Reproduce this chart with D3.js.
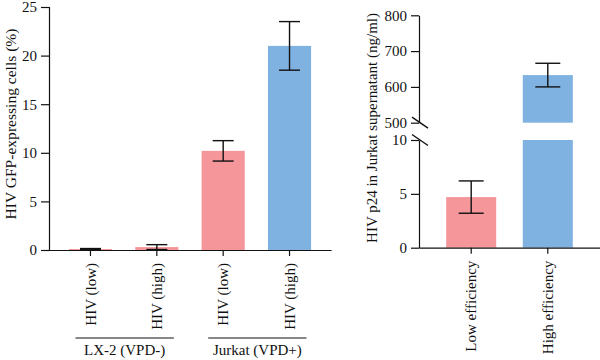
<!DOCTYPE html>
<html><head><meta charset="utf-8">
<script src="https://cdn.jsdelivr.net/npm/d3@7"></script>
<style>
body{margin:0;background:#fff;}
svg{font-family:"Liberation Serif","Times New Roman",serif;}
</style></head>
<body><svg id="c" width="600" height="360"></svg>
<script>
// Left panel data
const leftIds = ["lx_low","lx_high","jk_low","jk_high"];
const leftLabels = ["HIV (low)","HIV (high)","HIV (low)","HIV (high)"];
const leftGroups = ["LX-2 (VPD-)","Jurkat (VPD+)"];
const leftGroupMembers = [["lx_low","lx_high"],["jk_low","jk_high"]];
const leftValues = [0.1, 0.3, 10.2, 21.0];
const leftErrors = [0.05, 0.25, 1.05, 2.5];
const leftColors = ["pink","pink","pink","blue"];
const leftTicks = [0,5,10,15,20,25];

// Right panel data
const rightCats = ["Low efficiency","High efficiency"];
const rightValues = [4.7, 633];
const rightErrors = [1.5, 33];
const rightColors = ["pink","blue"];
const rightLowTicks = [0,5,10];
const rightHighTicks = [500,600,700,800];

const palette = {pink:"#F4969A", blue:"#80B2E1"};
const svg = d3.select("#c");
const fs = 15;

function fitText(sel, target){
  const len = sel.node().getComputedTextLength();
  const cur = parseFloat(sel.attr("font-size"));
  sel.attr("font-size", (cur*target/len).toFixed(2));
}

// ---------- Left panel ----------
const x1 = d3.scaleBand().domain(leftIds).range([49,331]).paddingInner(0.35).paddingOuter(0.3);
const y1 = d3.scaleLinear().domain([0,25]).range([250,7]);
const g1 = svg.append("g");

g1.selectAll("rect.bar").data(leftIds).join("rect")
  .attr("x", d=>x1(d)).attr("width", x1.bandwidth())
  .attr("y", (d,i)=>y1(leftValues[i])).attr("height",(d,i)=>y1(0)-y1(leftValues[i]))
  .attr("fill",(d,i)=>palette[leftColors[i]]);

function errBar(g, cx, yTop, yBot, cap){
  g.append("line").attr("x1",cx).attr("x2",cx).attr("y1",yTop).attr("y2",yBot).attr("stroke","#111").attr("stroke-width",1.4);
  g.append("line").attr("x1",cx-cap/2).attr("x2",cx+cap/2).attr("y1",yTop).attr("y2",yTop).attr("stroke","#111").attr("stroke-width",1.4);
  g.append("line").attr("x1",cx-cap/2).attr("x2",cx+cap/2).attr("y1",yBot).attr("y2",yBot).attr("stroke","#111").attr("stroke-width",1.4);
}
leftIds.forEach((d,i)=>{
  const cx = x1(d)+x1.bandwidth()/2;
  errBar(g1, cx, y1(leftValues[i]+leftErrors[i]), y1(Math.max(0,leftValues[i]-leftErrors[i])), 21);
});

const ya1 = g1.append("g").attr("transform","translate(49,0)")
  .call(d3.axisLeft(y1).tickValues(leftTicks).tickSize(8).tickPadding(4));
const xa1 = g1.append("g").attr("transform","translate(0,250)")
  .call(d3.axisBottom(x1).tickSize(6).tickSizeOuter(0).tickFormat((d,i)=>leftLabels[i]));
xa1.selectAll(".tick text")
  .attr("transform","rotate(-90)").attr("text-anchor","end")
  .attr("x",-13).attr("y",0).attr("dy","0.35em");

// group labels
leftGroupMembers.forEach((m,gi)=>{
  const xa = x1(m[0])+x1.bandwidth()/2 - 15;
  const xb = x1(m[1])+x1.bandwidth()/2 + 17;
  g1.append("line").attr("x1",xa).attr("x2",xb).attr("y1",338).attr("y2",338).attr("stroke","#111").attr("stroke-width",1.2);
  g1.append("text").attr("x",(xa+xb)/2).attr("y",355).attr("text-anchor","middle").attr("font-size",fs).attr("fill","#111").text(leftGroups[gi]);
});

const t1 = g1.append("text").attr("transform","translate(16,124) rotate(-90)").attr("text-anchor","middle")
  .attr("font-size",fs).attr("fill","#111").text("HIV GFP-expressing cells (%)");
fitText(t1, 191);

// ---------- Right panel ----------
const x2 = d3.scaleBand().domain(rightCats).range([419,600]).paddingInner(0.347).paddingOuter(0.355);
const yLow = d3.scaleLinear().domain([0,10]).range([247.7,140]);
const yHigh = d3.scaleLinear().domain([500,800]).range([122.7,15.3]);
const g2 = svg.append("g");

rightCats.forEach((c,i)=>{
  const v = rightValues[i];
  const col = palette[rightColors[i]];
  const top = Math.min(v,10);
  g2.append("rect").attr("x",x2(c)).attr("width",x2.bandwidth())
    .attr("y",yLow(top)).attr("height",yLow(0)-yLow(top)).attr("fill",col);
  if (v > 500){
    g2.append("rect").attr("x",x2(c)).attr("width",x2.bandwidth())
      .attr("y",yHigh(v)).attr("height",yHigh(500)-yHigh(v)).attr("fill",col);
  }
  const cx = x2(c)+x2.bandwidth()/2;
  const ys = v>500 ? yHigh : yLow;
  errBar(g2, cx, ys(v+rightErrors[i]), ys(v-rightErrors[i]), 25);
});

g2.append("g").attr("transform","translate(419,0)")
  .call(d3.axisLeft(yHigh).tickValues(rightHighTicks).tickSize(8).tickPadding(4).tickSizeOuter(0));
g2.append("g").attr("transform","translate(419,0)")
  .call(d3.axisLeft(yLow).tickValues(rightLowTicks).tickSize(8).tickPadding(4).tickSizeOuter(0));
const xa2 = g2.append("g").attr("transform","translate(0,247.7)")
  .call(d3.axisBottom(x2).tickSize(6).tickSizeOuter(0));
xa2.selectAll(".tick text")
  .attr("transform","rotate(-90)").attr("text-anchor","end")
  .attr("x",-13).attr("y",0).attr("dy","0.35em");

// break marks
[yHigh(500), yLow(10)].forEach(yy=>{
  g2.append("line").attr("x1",412).attr("x2",428).attr("y1",yy-5.5).attr("y2",yy+5.5)
    .attr("stroke","#111").attr("stroke-width",1.4);
});

const t2 = g2.append("text").attr("transform","translate(377,128) rotate(-90)").attr("text-anchor","middle")
  .attr("font-size",fs).attr("fill","#111").text("HIV p24 in Jurkat supernatant (ng/ml)");
fitText(t2, 230);

// axis styling
svg.selectAll(".domain, .tick line").attr("stroke","#111").attr("stroke-width",1.2);
svg.selectAll(".tick text").attr("font-size",fs).attr("fill","#111").attr("font-family","Liberation Serif, serif");
</script></body></html>
